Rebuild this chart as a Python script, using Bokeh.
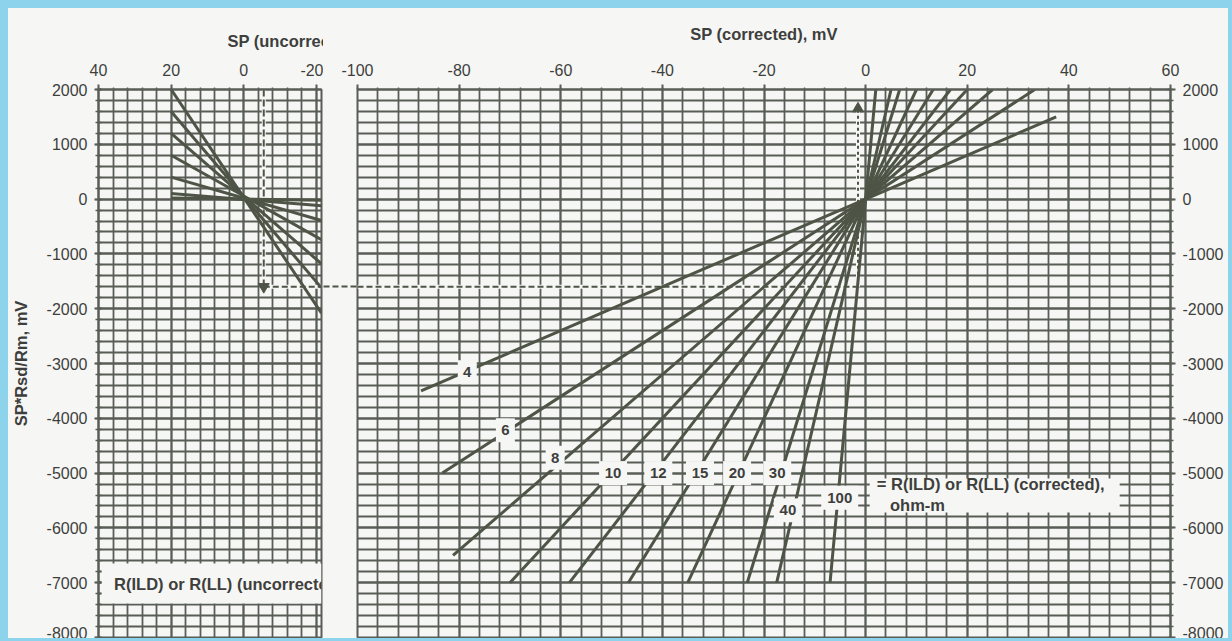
from bokeh.plotting import figure
from bokeh.layouts import row
from bokeh.models import (FixedTicker, Range1d, Title, LinearAxis, PrintfTickFormatter,
                          CustomJSTickFormatter)
from bokeh.core.properties import value
from bokeh.embed import file_html
from bokeh.resources import INLINE

# ---------------- data ----------------
# Shared vertical scale: SP*Rsd/Rm, mV
y_ticks = [2000, 1000, 0, -1000, -2000, -3000, -4000, -5000, -6000, -7000, -8000]
y_minor = list(range(-8000, 2001, 200))

# Left panel: SP (uncorrected), mV (axis runs right-to-left)
unc_ticks = [40, 20, 0, -20]
unc_minor = [40, 36, 32, 28, 24, 20, 16, 12, 8, 4, 0, -4, -8, -12, -16, -20]
# fan of uncorrected-resistivity lines (start at SP = 20, end at panel edge)
unc_x0 = [20, 20, 20, 20, 20, 20, 20]
unc_y0 = [2000, 1600, 1200, 800, 400, 100, 20]
unc_x1 = [-21.4, -21.4, -21.4, -21.4, -21.4, -21.4, -21.4]
unc_y1 = [-2080, -1620, -1180, -740, -390, -120, -20]

# Right panel: SP (corrected), mV
cor_ticks = [-100, -80, -60, -40, -20, 0, 20, 40, 60]
cor_minor = list(range(-100, 61, 4))
# corrected resistivity lines, ohm-m
cor_labels = ["4", "6", "8", "10", "12", "15", "20", "30", "40", "100"]
cor_x0 = [-87.5, -83.3, -81.2, -70.0, -58.3, -46.7, -35.0, -23.3, -17.5, -7.0]
cor_y0 = [-3500, -5000, -6500, -7000, -7000, -7000, -7000, -7000, -7000, -7000]
cor_x1 = [37.5, 33.3, 25.0, 20.0, 16.7, 13.3, 10.0, 6.7, 5.0, 2.0]
cor_y1 = [1500, 2000, 2000, 2000, 2000, 2000, 2000, 2000, 2000, 2000]
# where each resistivity tag sits on its line
tag_x = [-78.4, -70.9, -61.1, -49.7, -40.8, -32.6, -25.3, -17.4, -15.3, -5.1]
tag_y = [-3160, -4220, -4720, -5000, -5000, -5000, -5000, -5000, -5680, -5450]

# Worked example path
ex_sp_unc = -5.5
ex_level = -1600
ex_sp_cor = -1.5
ex_cor_top = 1650

# ---------------- style ----------------
CYAN = "#8cd3eb"
BG = "#f6f7f5"
GRID = "#585d56"
CURVE = "#4e5446"
TEXT = "#3e3f3d"
FONT = "Liberation Sans"
NOTE_SIZE = "16.5px"


def style_common(p):
    p.background_fill_color = BG
    p.border_fill_color = BG
    p.outline_line_color = GRID
    p.outline_line_width = 2
    for g in (p.xgrid[0], p.ygrid[0]):
        g.grid_line_color = GRID
        g.grid_line_width = 1.8
        g.minor_grid_line_color = GRID
        g.minor_grid_line_width = 1.8
        g.level = "underlay"


def style_axis(ax, tick_out, tick_in, minor_out, minor_in, standoff):
    ax.formatter = PrintfTickFormatter(format="%d")
    ax.axis_line_color = GRID
    ax.axis_line_width = 2
    ax.major_tick_line_color = GRID
    ax.major_tick_line_width = 2
    ax.minor_tick_line_color = GRID
    ax.minor_tick_line_width = 1.5
    ax.major_tick_out = tick_out
    ax.major_tick_in = tick_in
    ax.minor_tick_out = minor_out
    ax.minor_tick_in = minor_in
    ax.major_label_standoff = standoff
    ax.major_label_text_font = FONT
    ax.major_label_text_font_size = "16px"
    ax.major_label_text_color = TEXT
    ax.axis_label_text_font = FONT
    ax.axis_label_text_font_style = "bold"
    ax.axis_label_text_font_size = NOTE_SIZE
    ax.axis_label_text_color = TEXT


def guide_line(p, xs, ys, dash):
    # pale backing so the gaps of the dash pattern hide the grid beneath
    p.line(x=xs, y=ys, line_color=BG, line_width=4)
    p.line(x=xs, y=ys, line_color=CURVE, line_width=2, line_dash=dash)


# ---------------- left panel ----------------
pl = figure(width=315, height=630, x_range=Range1d(40, -21.4), y_range=Range1d(-8000, 2000),
            x_axis_location="above", output_backend="svg", toolbar_location=None,
            min_border_left=86, min_border_right=2, min_border_top=81, min_border_bottom=1)
style_common(pl)
pl.xaxis.ticker = FixedTicker(ticks=unc_ticks, minor_ticks=unc_minor)
pl.xgrid.ticker = FixedTicker(ticks=unc_ticks, minor_ticks=unc_minor)
pl.yaxis.ticker = FixedTicker(ticks=y_ticks, minor_ticks=y_minor)
pl.ygrid.ticker = FixedTicker(ticks=y_ticks, minor_ticks=y_minor)
style_axis(pl.xaxis[0], 5, 0, 2, 0, 9)
style_axis(pl.yaxis[0], 4, 3, 3, 3, 7)
pl.yaxis.axis_label = "SP*Rsd/Rm, mV"
pl.yaxis.axis_label_standoff = 14

# worked example: down from the uncorrected SP, then across
guide_line(pl, [ex_sp_unc, ex_sp_unc], [2000, ex_level], "7 3")
guide_line(pl, [ex_sp_unc, -21.4], [ex_level, ex_level], "6 3")

pl.segment(x0=unc_x0, y0=unc_y0, x1=unc_x1, y1=unc_y1, line_color=CURVE, line_width=3)
pl.scatter(x=[ex_sp_unc], y=[ex_level], marker="inverted_triangle", size=11,
           fill_color=CURVE, line_color=CURVE)

# note box at the bottom of the left panel
pl.quad(left=39.2, right=-21.4, top=-6650, bottom=-7380, fill_color=BG, line_color=None)
pl.text(x=[35.7], y=[-7015], text=["R(ILD) or R(LL) (uncorrected), ohm-m"],
        text_align="left", text_baseline="middle", text_font=value(FONT),
        text_font_style="bold", text_font_size=NOTE_SIZE, text_color=TEXT)

pl.add_layout(Title(text="SP (uncorrected), mV", align="left", offset=129, standoff=22,
                    text_font=FONT, text_font_style="bold", text_font_size=NOTE_SIZE,
                    text_color=TEXT), "above")

# ---------------- right panel ----------------
pr = figure(width=905, height=630, x_range=Range1d(-100, 60), y_range=Range1d(-8000, 2000),
            x_axis_location="above", y_axis_location="right", output_backend="svg",
            toolbar_location=None,
            min_border_left=34, min_border_right=58, min_border_top=81, min_border_bottom=1)
style_common(pr)
pr.xaxis.ticker = FixedTicker(ticks=cor_ticks, minor_ticks=cor_minor)
pr.xgrid.ticker = FixedTicker(ticks=cor_ticks, minor_ticks=cor_minor)
pr.yaxis.ticker = FixedTicker(ticks=y_ticks, minor_ticks=y_minor)
pr.ygrid.ticker = FixedTicker(ticks=y_ticks, minor_ticks=y_minor)
style_axis(pr.xaxis[0], 5, 0, 2, 0, 9)
style_axis(pr.yaxis[0], 5, 0, 3, 3, 7)
pr.xaxis.axis_label = "SP (corrected), mV"
pr.xaxis.axis_label_standoff = 18

# worked example continues across, then up to the corrected SP
guide_line(pr, [-100, ex_sp_cor], [ex_level, ex_level], "6 3")
guide_line(pr, [ex_sp_cor, ex_sp_cor], [ex_level, ex_cor_top], "3 3")

# the stretch of the example line that crosses the white gap between the panels:
# a bare left-hand guide whose single dashed tick spans the gap
gap = LinearAxis(ticker=FixedTicker(ticks=[ex_level], minor_ticks=[]),
                 formatter=CustomJSTickFormatter(code="return ''"),
                 axis_line_color=None, major_tick_out=34, major_tick_in=0,
                 major_tick_line_color=CURVE, major_tick_line_width=2,
                 major_tick_line_dash="6 3", minor_tick_line_color=None,
                 major_label_standoff=0)
pr.add_layout(gap, "left")

pr.segment(x0=cor_x0, y0=cor_y0, x1=cor_x1, y1=cor_y1, line_color=CURVE, line_width=3)
pr.scatter(x=[ex_sp_cor], y=[ex_cor_top], marker="triangle", size=11,
           fill_color=CURVE, line_color=CURVE)

# resistivity tags on the lines
tag_w = [10 + 9 * len(t) for t in cor_labels]
pr.rect(x=tag_x, y=tag_y, width=tag_w, height=24, width_units="screen", height_units="screen",
        fill_color=BG, line_color=None)
pr.text(x=tag_x, y=tag_y, text=cor_labels, text_align="center", text_baseline="middle",
        text_font=value(FONT), text_font_style="bold", text_font_size="15px", text_color=TEXT)

# legend note for the tags
pr.quad(left=0.8, right=50, top=-5100, bottom=-5720, fill_color=BG, line_color=None)
pr.text(x=[2.2], y=[-5190], text=["= R(ILD) or R(LL) (corrected),"], text_align="left",
        text_baseline="middle", text_font=value(FONT), text_font_style="bold",
        text_font_size=NOTE_SIZE, text_color=TEXT)
pr.text(x=[4.8], y=[-5590], text=["ohm-m"], text_align="left", text_baseline="middle",
        text_font=value(FONT), text_font_style="bold", text_font_size=NOTE_SIZE,
        text_color=TEXT)

layout = row(pl, pr, spacing=0,
             styles={"background-color": BG, "border-style": "solid",
                     "border-color": CYAN, "border-width": "8px 4px 3px 8px"})

open("out.html", "w").write(file_html(layout, INLINE))
